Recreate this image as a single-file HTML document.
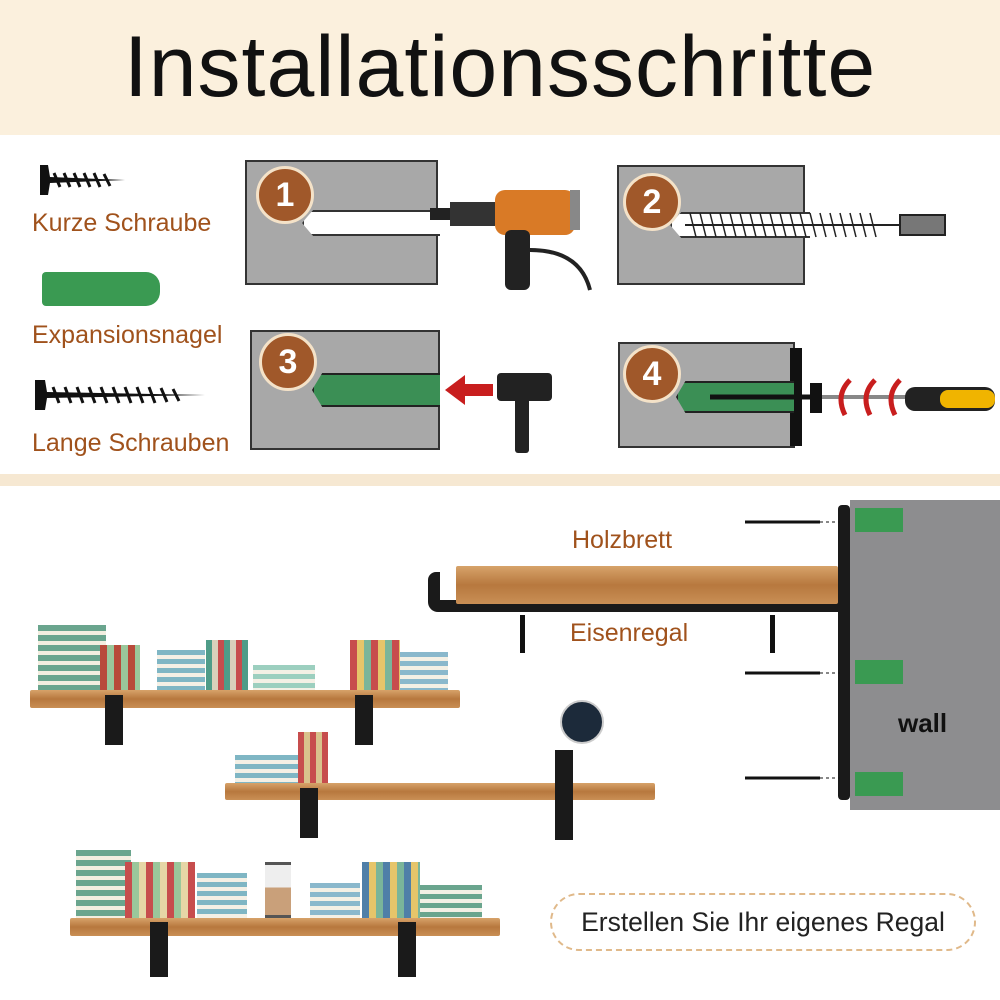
<!DOCTYPE html>
<html><head><meta charset="utf-8"><style>
*{margin:0;padding:0;box-sizing:border-box}
body{width:1000px;height:1000px;position:relative;overflow:hidden;background:#fff;font-family:"Liberation Sans",sans-serif}
.abs{position:absolute}
.hdr{left:0;top:0;width:1000px;height:135px;background:#fbf0dd;text-align:center;font-size:86px;line-height:135px;color:#111;letter-spacing:1px}
.lbl{color:#a0521c;font-size:25px}
.box{background:#a8a8a8;border:2px solid #333}
.num{width:58px;height:58px;border-radius:50%;background:#a0582a;border:3px solid #f4e2c8;color:#fff;font-size:34px;font-weight:bold;text-align:center;line-height:52px}
.wood{background:linear-gradient(#d7a36a,#b7783e 50%,#c98f55);border-radius:2px}
.brk{background:#1a1a1a}
.sep{left:0;top:474px;width:1000px;height:12px;background:#f6e8d2}
</style></head><body>
<div class="abs hdr">Installationsschritte</div>

<svg class="abs" style="left:40px;top:165px" width="90" height="30"><polygon points="0,0 8,0 10,12 85,15 10,18 8,30 0,30" fill="#111"/><path d="M14,8 L20,22 M24,8 L30,22 M34,8 L40,22 M44,8 L50,22 M54,8 L60,22 M64,9 L70,21" stroke="#111" stroke-width="3"/></svg>
<div class="abs lbl" style="left:32px;top:209px">Kurze Schraube</div>
<div class="abs" style="left:42px;top:272px;width:118px;height:34px;background:#3a9a52;border-radius:4px 14px 14px 4px"></div>
<div class="abs lbl" style="left:32px;top:321px">Expansionsnagel</div>
<svg class="abs" style="left:35px;top:378px" width="175" height="34"><polygon points="0,2 10,2 12,14 170,17 12,20 10,32 0,32" fill="#111"/><path d="M18,9 L24,25 M30,9 L36,25 M42,9 L48,25 M54,9 L60,25 M66,9 L72,25 M78,9 L84,25 M90,9 L96,25 M102,9 L108,25 M114,9 L120,25 M126,10 L132,24 M138,11 L144,23" stroke="#111" stroke-width="3"/></svg>
<div class="abs lbl" style="left:32px;top:429px">Lange Schrauben</div>

<div class="abs box" style="left:245px;top:160px;width:193px;height:125px"></div>
<div class="abs" style="left:302px;top:210px;width:138px;height:26px;background:#fff;border:2px solid #333;border-right:none;clip-path:polygon(8% 0,100% 0,100% 100%,8% 100%,0 50%)"></div>
<div class="abs num" style="left:256px;top:166px">1</div>
<svg class="abs" style="left:430px;top:180px" width="180" height="120"><rect x="0" y="28" width="20" height="12" fill="#222"/><rect x="20" y="22" width="45" height="24" fill="#333"/><rect x="65" y="10" width="80" height="45" rx="10" fill="#d97a26"/><rect x="75" y="50" width="25" height="60" rx="6" fill="#222"/><rect x="140" y="10" width="10" height="40" fill="#888"/><path d="M100,70 Q150,70 160,110" stroke="#222" stroke-width="4" fill="none"/></svg>

<div class="abs box" style="left:617px;top:165px;width:188px;height:120px"></div>
<div class="abs" style="left:670px;top:212px;width:140px;height:26px;background:#fff;border:2px solid #333;border-right:none;clip-path:polygon(8% 0,100% 0,100% 100%,8% 100%,0 50%)"></div>
<svg class="abs" style="left:680px;top:208px" width="270" height="34"><path d="M5,17 L220,17" stroke="#222" stroke-width="2"/><path d="M10,5 L16,29 M20,5 L26,29 M30,5 L36,29 M40,5 L46,29 M50,5 L56,29 M60,5 L66,29 M70,5 L76,29 M80,5 L86,29 M90,5 L96,29 M100,5 L106,29 M110,5 L116,29 M120,5 L126,29 M130,5 L136,29 M140,5 L146,29 M150,5 L156,29 M160,5 L166,29 M170,5 L176,29 M180,5 L186,29 M190,5 L196,29" stroke="#222" stroke-width="1.5"/><rect x="220" y="7" width="45" height="20" fill="#777" stroke="#222" stroke-width="2"/></svg>
<div class="abs num" style="left:623px;top:173px">2</div>

<div class="abs box" style="left:250px;top:330px;width:190px;height:120px"></div>
<div class="abs" style="left:312px;top:373px;width:128px;height:34px;background:#3b8f55;border:2px solid #222;border-right:none;clip-path:polygon(8% 0,100% 0,100% 100%,8% 100%,0 50%)"></div>
<div class="abs num" style="left:259px;top:333px">3</div>
<svg class="abs" style="left:445px;top:365px" width="115" height="95"><polygon points="0,25 20,10 20,19 48,19 48,31 20,31 20,40" fill="#c81e1e"/><rect x="52" y="8" width="55" height="28" rx="4" fill="#222"/><rect x="70" y="30" width="14" height="58" rx="3" fill="#222"/></svg>

<div class="abs box" style="left:618px;top:342px;width:177px;height:106px"></div>
<div class="abs" style="left:790px;top:348px;width:12px;height:98px;background:#111"></div>
<div class="abs" style="left:676px;top:381px;width:118px;height:32px;background:#3b8f55;border:2px solid #222;border-right:none;clip-path:polygon(8% 0,100% 0,100% 100%,8% 100%,0 50%)"></div>
<svg class="abs" style="left:700px;top:375px" width="300" height="50"><path d="M10,22 L110,22" stroke="#111" stroke-width="5"/><polygon points="110,8 122,8 122,38 110,38" fill="#111"/><rect x="122" y="20" width="90" height="4" fill="#888"/><path d="M145,40 Q135,20 150,5 M170,40 Q160,20 175,5 M195,40 Q185,20 200,5" stroke="#c81e1e" stroke-width="5" fill="none"/><rect x="205" y="12" width="90" height="24" rx="10" fill="#222"/><rect x="240" y="15" width="55" height="18" rx="8" fill="#f0b400"/></svg>
<div class="abs num" style="left:623px;top:345px">4</div>

<div class="abs sep"></div>

<div class="abs" style="left:850px;top:500px;width:150px;height:310px;background:#8d8d8f"></div>
<div class="abs" style="left:898px;top:708px;font-size:26px;font-weight:bold;color:#111">wall</div>
<div class="abs brk" style="left:838px;top:505px;width:12px;height:295px;border-radius:4px"></div>
<div class="abs brk" style="left:428px;top:600px;width:420px;height:12px;border-radius:0 0 0 10px"></div>
<div class="abs brk" style="left:428px;top:572px;width:12px;height:36px;border-radius:8px 0 0 8px"></div>
<div class="abs wood" style="left:456px;top:566px;width:382px;height:38px"></div>
<div class="abs lbl" style="left:572px;top:526px">Holzbrett</div>
<div class="abs lbl" style="left:570px;top:619px">Eisenregal</div>
<div class="abs" style="left:855px;top:508px;width:48px;height:24px;background:#3a9a52"></div>
<div class="abs" style="left:855px;top:660px;width:48px;height:24px;background:#3a9a52"></div>
<div class="abs" style="left:855px;top:772px;width:48px;height:24px;background:#3a9a52"></div>
<svg class="abs" style="left:740px;top:510px" width="100" height="290"><g stroke="#111" stroke-width="3"><path d="M5,12 L80,12"/><path d="M5,163 L80,163"/><path d="M5,268 L80,268"/></g><g stroke="#111" stroke-dasharray="3,3"><path d="M80,12 L100,12 M80,163 L100,163 M80,268 L100,268"/></g></svg>
<div class="abs" style="left:520px;top:615px;width:5px;height:38px;background:#111"></div>
<div class="abs" style="left:770px;top:615px;width:5px;height:38px;background:#111"></div>

<div class="abs wood" style="left:30px;top:690px;width:430px;height:18px"></div>
<div class="abs brk" style="left:105px;top:695px;width:18px;height:50px"></div>
<div class="abs brk" style="left:355px;top:695px;width:18px;height:50px"></div>
<div class="abs" style="left:38px;top:625px;width:68px;height:65px;background:repeating-linear-gradient(#6aa58e 0 6px,#f3eee0 6px 10px)"></div>
<div class="abs" style="left:100px;top:645px;width:40px;height:45px;background:repeating-linear-gradient(90deg,#b84a3a 0 7px,#9ac79b 7px 14px)"></div>
<div class="abs" style="left:157px;top:650px;width:48px;height:40px;background:repeating-linear-gradient(#7fb6c4 0 5px,#f4f0e5 5px 9px)"></div>
<div class="abs" style="left:206px;top:640px;width:42px;height:50px;background:repeating-linear-gradient(90deg,#4f9c88 0 6px,#d9d0bb 6px 12px,#c74d4d 12px 18px)"></div>
<div class="abs" style="left:253px;top:665px;width:62px;height:25px;background:repeating-linear-gradient(#9ccfbf 0 5px,#f4f0e5 5px 9px)"></div>
<div class="abs" style="left:350px;top:640px;width:50px;height:50px;background:repeating-linear-gradient(90deg,#c74d4d 0 7px,#e6c56a 7px 14px,#7ab59a 14px 21px)"></div>
<div class="abs" style="left:400px;top:652px;width:48px;height:38px;background:repeating-linear-gradient(#8ab8cc 0 5px,#f4f0e5 5px 9px)"></div>

<div class="abs wood" style="left:225px;top:783px;width:430px;height:17px"></div>
<div class="abs brk" style="left:300px;top:788px;width:18px;height:50px"></div>
<div class="abs brk" style="left:555px;top:750px;width:18px;height:90px"></div>
<div class="abs" style="left:235px;top:755px;width:65px;height:28px;background:repeating-linear-gradient(#7fb6c4 0 5px,#f4f0e5 5px 9px)"></div>
<div class="abs" style="left:298px;top:732px;width:30px;height:51px;background:repeating-linear-gradient(90deg,#c74d4d 0 6px,#d9c28c 6px 12px)"></div>
<div class="abs" style="left:560px;top:700px;width:44px;height:44px;border-radius:50%;background:#1c2a3a;border:2px solid #ccc"></div>

<div class="abs wood" style="left:70px;top:918px;width:430px;height:18px"></div>
<div class="abs brk" style="left:150px;top:922px;width:18px;height:55px"></div>
<div class="abs brk" style="left:398px;top:922px;width:18px;height:55px"></div>
<div class="abs" style="left:76px;top:850px;width:55px;height:68px;background:repeating-linear-gradient(#6aa58e 0 6px,#f3eee0 6px 10px)"></div>
<div class="abs" style="left:125px;top:862px;width:70px;height:56px;background:repeating-linear-gradient(90deg,#c74d4d 0 7px,#9ac79b 7px 14px,#e6d6a6 14px 21px)"></div>
<div class="abs" style="left:197px;top:873px;width:50px;height:45px;background:repeating-linear-gradient(#7fb6c4 0 5px,#f4f0e5 5px 9px)"></div>
<div class="abs" style="left:265px;top:862px;width:26px;height:56px;border:3px solid #555;border-left:none;border-right:none;background:linear-gradient(#eee 45%,#c9a07a 45%)"></div>
<div class="abs" style="left:310px;top:883px;width:50px;height:35px;background:repeating-linear-gradient(#8ab8cc 0 5px,#f4f0e5 5px 9px)"></div>
<div class="abs" style="left:362px;top:862px;width:58px;height:56px;background:repeating-linear-gradient(90deg,#4f7fa8 0 7px,#e6c56a 7px 14px,#7ab59a 14px 21px)"></div>
<div class="abs" style="left:420px;top:885px;width:62px;height:33px;background:repeating-linear-gradient(#6aa58e 0 5px,#f4f0e5 5px 9px)"></div>

<div class="abs" style="left:550px;top:893px;width:426px;height:58px;border:2px dashed #e0b98a;border-radius:29px;background:#fff;text-align:center;line-height:54px;font-size:26.5px;color:#222">Erstellen Sie Ihr eigenes Regal</div>
</body></html>
